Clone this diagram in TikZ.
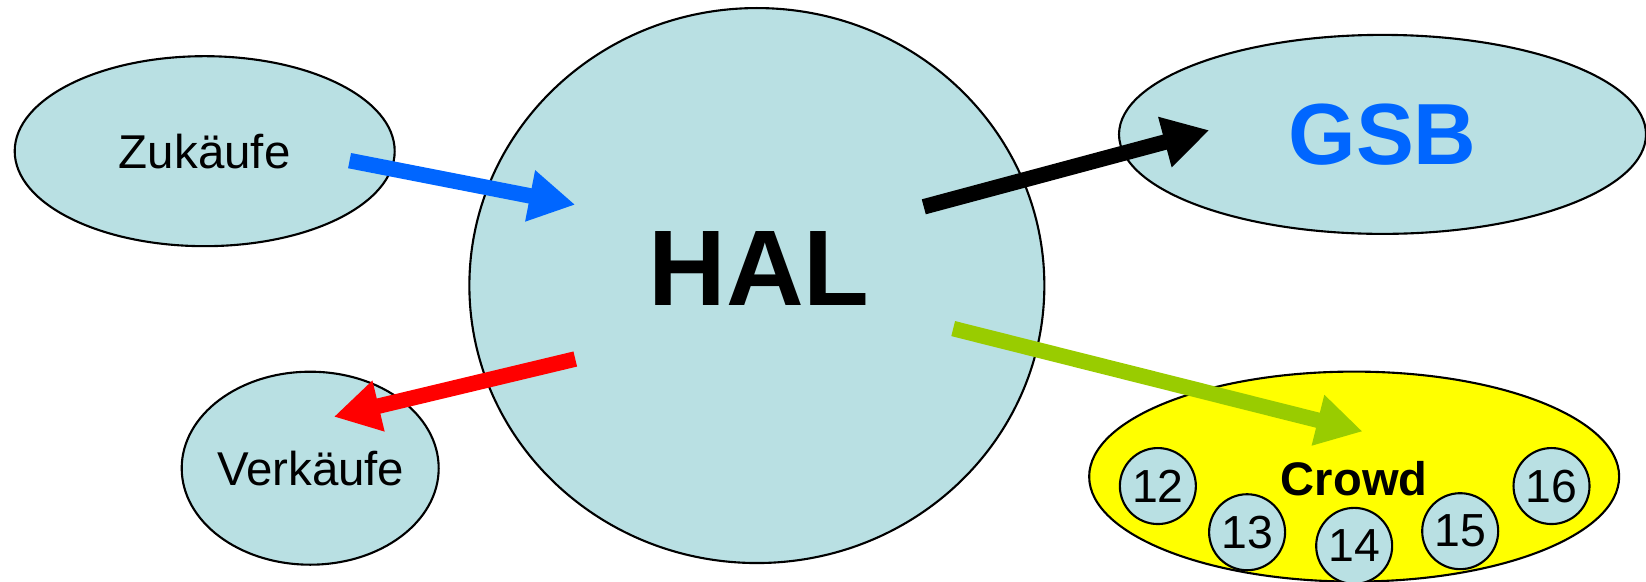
\documentclass[tikz,border=0pt]{standalone}
\usepackage{fontspec}
\setmainfont{Liberation Sans}
\usetikzlibrary{shapes.geometric,arrows.meta}
\definecolor{halblue}{RGB}{185,224,227}
\definecolor{arrblue}{RGB}{0,102,255}
\definecolor{arrgreen}{RGB}{153,204,0}
\definecolor{crowdyellow}{RGB}{255,255,0}
\tikzset{
	blob/.style={ellipse, draw=black, line width=0.6pt, fill=halblue, inner sep=0pt},
	member/.style={circle, draw=black, line width=0.6pt, fill=halblue, inner sep=0pt, minimum size=0.76cm, font=\fontsize{13.2}{15}\selectfont},
	flow/.style={line width=0.155cm, -{Triangle[length=0.46cm, width=0.49cm]}}
}

\begin{document}
\begin{tikzpicture}[x=0.010497cm, y=-0.010497cm]
			%%%%% START %%%%%
			\useasboundingbox (0, 0) rectangle (1568, 554.4);
			
			\node[blob, minimum width=3.80cm, minimum height=1.90cm, font=\fontsize{13.5}{16}\selectfont] (zukaeufe) at (195, 144) {Zukäufe};
			\node[blob, minimum width=2.57cm, minimum height=1.93cm] (verkaeufe) at (295.5, 446) {};
			\node[font=\fontsize{13.5}{16}\selectfont] (verklabel) at (296, 446) {Verkäufe};
			\node[blob, minimum width=5.75cm, minimum height=5.55cm] (hal) at (721, 272) {};
			\node[font=\fontsize{30.6}{34}\selectfont\bfseries] (hallabel) at (723, 255.5) {HAL};
			\node[blob, minimum width=5.27cm, minimum height=1.99cm, font=\fontsize{24.7}{28}\selectfont\bfseries, text=arrblue] (gsb) at (1317, 128) {GSB};
			
			\node[ellipse, draw=black, line width=0.6pt, fill=crowdyellow, minimum width=5.30cm, minimum height=2.10cm] (crowd) at (1290, 454) {};
			\node[font=\fontsize{13.4}{15}\selectfont\bfseries] (crowdlabel) at (1290, 456) {Crowd};
			\node[member] (m12) at (1103, 463) {12};
			\node[member] (m13) at (1188, 507) {13};
			\node[member] (m14) at (1290, 520) {14};
			\node[member] (m15) at (1391, 506) {15};
			\node[member] (m16) at (1478, 463) {16};
			
			% arrow ends
			\coordinate (zukout) at (333, 153);
			\coordinate (halin) at (548, 195);
			\coordinate (halgsb) at (880, 197);
			\coordinate (gsbin) at (1152, 124);
			\coordinate (halverk) at (548, 342);
			\coordinate (verkin) at (318, 397);
			\coordinate (halcrowd) at (908, 313);
			\coordinate (crowdin) at (1298, 411);
			
			\draw[flow, draw=arrblue] (zukout) -- (halin);
			\draw[flow, draw=black] (halgsb) -- (gsbin);
			\draw[flow, draw=red] (halverk) -- (verkin);
			\draw[flow, draw=arrgreen] (halcrowd) -- (crowdin);
			%%%%% END %%%%%
\end{tikzpicture}
\end{document}
